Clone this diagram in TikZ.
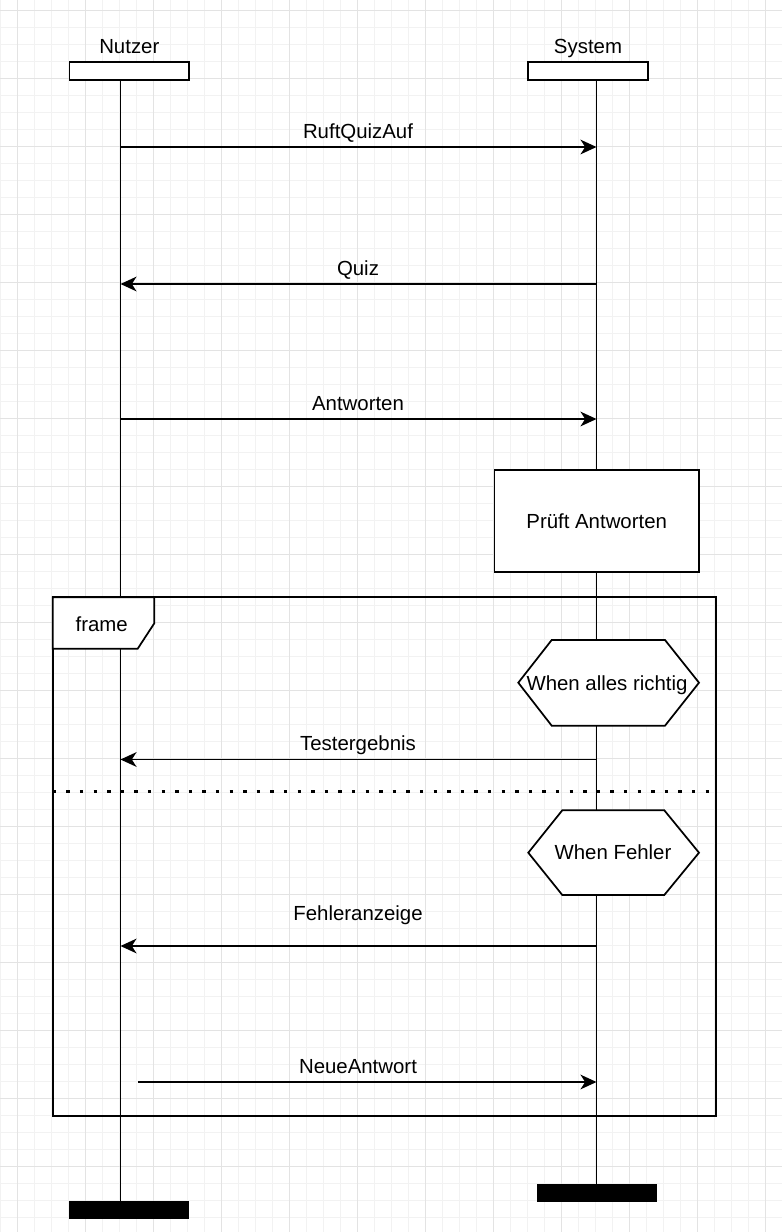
\documentclass[tikz,border=0pt]{standalone}
\usepackage{fontspec}
\setmainfont{Liberation Sans}
\usetikzlibrary{arrows.meta}
\begin{document}
\begin{tikzpicture}[x=0.75pt,y=-0.75pt,
  ln/.style={line width=1.3pt, draw=black},
  hdr/.style={ln, fill=white, minimum width=89.6pt, minimum height=13.1pt, inner sep=0pt},
  endbar/.style={fill=black, draw=none, minimum width=90pt, minimum height=13.5pt, inner sep=0pt},
  txt/.style={font=\fontsize{15.3pt}{18pt}\selectfont},
  lbl/.style={txt, inner sep=0pt, anchor=base},
  msg/.style={ln, -{Stealth[length=12pt,width=11pt,inset=3.5pt]}},
  gridminor/.style={draw=black!5, line width=0.75pt},
  gridmajor/.style={draw=black!11, line width=0.75pt},
  hexa/.style={ln, fill=white},
  divider/.style={line width=2.55pt, dash pattern=on 2.55pt off 7.65pt},
]
\useasboundingbox (0,0) rectangle (782,1232);
\fill[white] (0,0) rectangle (782,1232);
% grid
\foreach \i in {0,...,46} \draw[gridminor] (17*\i,0) -- (17*\i,1232);
\foreach \j in {0,...,72} \draw[gridminor] (0,10+17*\j) -- (782,10+17*\j);
\foreach \i in {0,...,11} \draw[gridmajor] (17+68*\i,0) -- (17+68*\i,1232);
\foreach \j in {0,...,18} \draw[gridmajor] (0,10+68*\j) -- (782,10+68*\j);

% lifeline heads and ends
\node[hdr] (nHead) at (129.3,71) {};
\node[hdr] (sHead) at (588,71) {};
\node[lbl] (nName) at (129.3,53) {Nutzer};
\node[lbl] (sName) at (588,53) {System};
\node[endbar] (nEnd) at (129,1210) {};
\node[endbar] (sEnd) at (597,1193) {};
\coordinate (nTop) at (120.5,79.7);
\coordinate (sTop) at (596.5,79.7);
\draw[ln] (nTop) -- (nTop |- nEnd.north);
\draw[ln] (sTop) -- (sTop |- sEnd.north);

% frame
\draw[ln] (52.7,597.3) rectangle (716,1115.8);
\draw[ln, fill=white] (52.7,597.3) -- (154.3,597.3) -- (154.3,623.3) -- (137.7,648.7) -- (52.7,648.7) -- cycle;
\node[lbl] (frameLbl) at (101.7,631) {frame};
\draw[divider] (52.7,791.7) -- (716,791.7);

% activity box
\node[ln, fill=white, minimum width=153.5pt, minimum height=76.5pt, inner sep=0pt, txt] (check) at (596.7,521) {Prüft Antworten};

% guards
\draw[hexa] (518.3,682.7) -- (551.7,640) -- (665,640) -- (699,682.7) -- (665,725.7) -- (551.7,725.7) -- cycle;
\node[lbl] (g1) at (607,690) {When alles richtig};
\draw[hexa] (528.3,852.7) -- (562.3,810.3) -- (664.3,810.3) -- (699,852.7) -- (664.3,895) -- (562.3,895) -- cycle;
\node[lbl] (g2) at (613,859.3) {When Fehler};

% messages
\coordinate (n1) at (120.5,147);  \coordinate (s1) at (596.5,147);
\coordinate (n2) at (120.5,284);  \coordinate (s2) at (596.5,284);
\coordinate (n3) at (120.5,419);  \coordinate (s3) at (596.5,419);
\coordinate (n4) at (120.5,759.5);\coordinate (s4) at (596.5,759.5);
\coordinate (n5) at (120.5,946);  \coordinate (s5) at (596.5,946);
\coordinate (n6) at (138,1082);   \coordinate (s6) at (596.5,1082);
\draw[msg] (n1) -- (s1);
\draw[msg] (s2) -- (n2);
\draw[msg] (n3) -- (s3);
\draw[msg] (s4) -- (n4);
\draw[msg] (s5) -- (n5);
\draw[msg] (n6) -- (s6);
\node[lbl] (m1) at (358,138) {RuftQuizAuf};
\node[lbl] (m2) at (358,275) {Quiz};
\node[lbl] (m3) at (358,410) {Antworten};
\node[lbl] (m4) at (358,750.7) {Testergebnis};
\node[lbl] (m5) at (358,920) {Fehleranzeige};
\node[lbl] (m6) at (358,1073) {NeueAntwort};
\end{tikzpicture}
\end{document}
